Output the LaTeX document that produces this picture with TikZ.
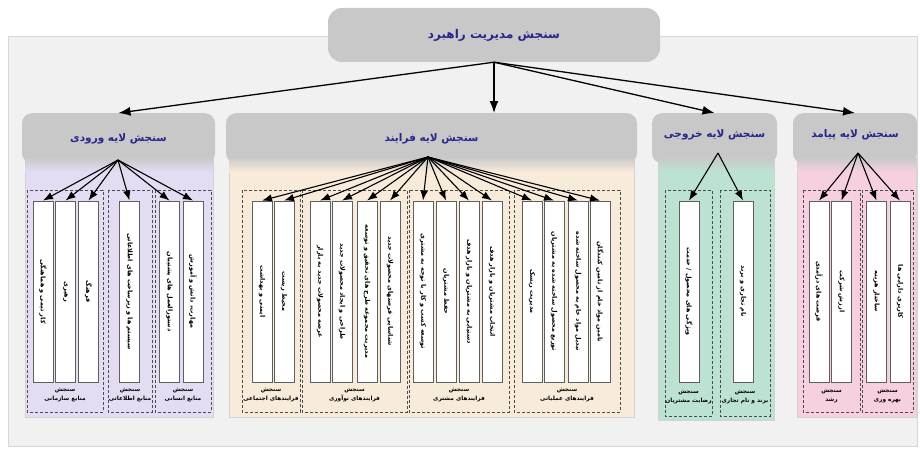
\documentclass[tikz,border=0pt]{standalone}
\usepackage{fontspec}
\usepackage{graphicx}
\setmainfont{DejaVu Sans}
\newfontfamily\fa[Script=Arabic]{DejaVu Sans}
\TeXXeTstate=1
\usetikzlibrary{arrows.meta}
\definecolor{ttlblue}{RGB}{38,38,140}
\definecolor{panelbg}{RGB}{241,241,241}
\definecolor{panelln}{RGB}{215,215,215}
\definecolor{hdrgray}{RGB}{200,200,200}
\definecolor{bodyI}{RGB}{228,220,243}
\definecolor{bodyP}{RGB}{249,235,218}
\definecolor{bodyO}{RGB}{188,227,210}
\definecolor{bodyU}{RGB}{246,208,224}
\definecolor{boxln}{RGB}{95,95,95}
\newcommand\rl[1]{\beginR #1\endR}
\newcommand\vtext[1]{\rotatebox{-90}{\fa\bfseries\beginR #1\endR}}
\newcommand\twol[1]{\beginR سنجش\endR\\\beginR #1\endR}
\begin{document}
\begin{tikzpicture}[x=1pt,y=-1pt,
  topbox/.style={fill=hdrgray, rounded corners=14pt, minimum width=332pt, minimum height=54pt, font=\fa\bfseries\fontsize{12}{14}\selectfont, text=ttlblue},
  hdr/.style={fill=hdrgray, rounded corners=10pt, minimum height=50pt, anchor=north, inner sep=0pt},
  ttl/.style={font=\fa\bfseries\fontsize{10.5}{12}\selectfont, text=ttlblue},
  body/.style={draw=gray!35, line width=0.6pt},
  grp/.style={draw=gray!60!black, dash pattern=on 3pt off 2pt, line width=0.6pt},
  wbox/.style={draw=boxln, fill=white, line width=0.9pt, minimum width=20pt, minimum height=181pt, inner sep=0pt, font=\fontsize{6.4}{7}\selectfont},
  lbl/.style={font=\fa\bfseries\fontsize{5.8}{9}\selectfont, align=center, inner sep=0pt},
  marr/.style={line width=1.3pt, -{Latex[length=12pt,width=9pt]}},
  iarr/.style={line width=1.1pt, -{Latex[length=10pt,width=7.5pt]}},
]
\useasboundingbox (0,0) rectangle (920,452);
\fill[white] (0,0) rectangle (920,452);
\draw[fill=panelbg, draw=panelln, line width=1pt] (8,37) rectangle (917,446);

% top box
\node[topbox] (top) at (494,35) {\rl{سنجش مدیریت راهبرد}};

% headers
\node[hdr, minimum width=193pt] (hI) at (118.5,113) {};
\node[hdr, minimum width=411pt] (hP) at (431.5,113) {};
\node[hdr, minimum width=125pt] (hO) at (714.5,113) {};
\node[hdr, minimum width=124pt] (hU) at (855,113) {};

% bodies
\draw[body, fill=bodyI] (25,158) rectangle (213,417);
\draw[body, fill=bodyP] (229,158) rectangle (634,417);
\draw[body, fill=bodyO] (658,158) rectangle (774,420);
\draw[body, fill=bodyU] (797,158) rectangle (916,417);
\shade[top color=hdrgray, bottom color=bodyI] (25,157) rectangle (213,172);
\shade[top color=hdrgray, bottom color=bodyP] (229,157) rectangle (634,172);
\shade[top color=hdrgray, bottom color=bodyO] (658,157) rectangle (774,172);
\shade[top color=hdrgray, bottom color=bodyU] (797,157) rectangle (916,172);

% titles
\node[ttl] (tI) at (118.5,139) {\rl{سنجش لایه ورودی}};
\node[ttl] (tP) at (431.5,139) {\rl{سنجش لایه فرایند}};
\node[ttl] (tO) at (714.5,135) {\rl{سنجش لایه خروجی}};
\node[ttl] (tU) at (855,135) {\rl{سنجش لایه پیامد}};
\coordinate (oI) at (118,160);
\coordinate (oP) at (428,157);
\coordinate (oO) at (718,153);
\coordinate (oU) at (858,153);

% dashed groups
\draw[grp] (27,190) rectangle (103,412);
\draw[grp] (108,190) rectangle (152,412);
\draw[grp] (155,190) rectangle (211,412);
\draw[grp] (242,190) rectangle (300,412);
\draw[grp] (302,190) rectangle (407,412);
\draw[grp] (409,190) rectangle (509,412);
\draw[grp] (514,190) rectangle (620,412);
\draw[grp] (665,190) rectangle (712,416);
\draw[grp] (720,190) rectangle (770,416);
\draw[grp] (803,190) rectangle (860,412);
\draw[grp] (862,190) rectangle (913,412);

% group labels
\node[lbl] (lI1) at (65,395) {\twol{منابع سازمانی}};
\node[lbl] (lI2) at (130,395) {\twol{منابع اطلاعاتی}};
\node[lbl] (lI3) at (183,395) {\twol{منابع انسانی}};
\node[lbl] (lP1) at (271,395) {\twol{فرایندهای اجتماعی}};
\node[lbl] (lP2) at (354.5,395) {\twol{فرایندهای نوآوری}};
\node[lbl] (lP3) at (459,395) {\twol{فرایندهای مشتری}};
\node[lbl] (lP4) at (567,395) {\twol{فرایندهای عملیاتی}};
\node[lbl] (lO1) at (688.5,397) {\twol{رضایت مشتریان}};
\node[lbl] (lO2) at (745,397) {\twol{برند و نام تجاری}};
\node[lbl] (lU1) at (831.5,396) {\twol{رشد}};
\node[lbl] (lU2) at (887.5,396) {\twol{بهره وری}};

% input boxes
\node[wbox] (i1) at (43,291.5) {\vtext{کار تیمی و هماهنگی}};
\node[wbox] (i2) at (65.5,291.5) {\vtext{رهبری}};
\node[wbox] (i3) at (88.5,291.5) {\vtext{فرهنگ}};
\node[wbox] (i4) at (129.5,291.5) {\vtext{سیستم ها و زیرساخت های اطلاعاتی}};
\node[wbox] (i5) at (169.5,291.5) {\vtext{دستورالعمل های پشتیبان}};
\node[wbox] (i6) at (193,291.5) {\vtext{مهارت، دانش و آموزش}};

% process boxes
\node[wbox] (p1) at (262,291.5) {\vtext{ایمنی و بهداشت}};
\node[wbox] (p2) at (284,291.5) {\vtext{محیط زیست}};
\node[wbox] (p3) at (320,291.5) {\vtext{عرضه محصولات جدید به بازار}};
\node[wbox] (p4) at (342,291.5) {\vtext{طراحی و ایجاد محصولات جدید}};
\node[wbox] (p5) at (367,291.5) {\vtext{مدیریت مجموعه طرح های تحقیق و توسعه}};
\node[wbox] (p6) at (390,291.5) {\vtext{شناسایی فرصتهای محصولات جدید}};
\node[wbox] (p7) at (423,291.5) {\vtext{توسعه کسب و کار با توجه به مشتری}};
\node[wbox] (p8) at (446,291.5) {\vtext{حفظ مشتریان}};
\node[wbox] (p9) at (469,291.5) {\vtext{دستیابی به مشتریان و بازار هدف}};
\node[wbox] (p10) at (492,291.5) {\vtext{انتخاب مشتریان و بازار هدف}};
\node[wbox] (p11) at (532,291.5) {\vtext{مدیریت ریسک}};
\node[wbox] (p12) at (554,291.5) {\vtext{توزیع محصول ساخته شده به مشتریان}};
\node[wbox] (p13) at (578,291.5) {\vtext{تبدیل مواد خام به محصول ساخته شده}};
\node[wbox] (p14) at (600,291.5) {\vtext{تامین مواد خام از تامین کنندگان}};

% output boxes
\node[wbox] (o1) at (689,291.5) {\vtext{ویژگی های محصول / خدمت}};
\node[wbox] (o2) at (743,291.5) {\vtext{نام تجاری و برند}};

% outcome boxes
\node[wbox] (u1) at (819,291.5) {\vtext{فرصت های درآمدی}};
\node[wbox] (u2) at (841.5,291.5) {\vtext{ارزش شرکت}};
\node[wbox] (u3) at (876.5,291.5) {\vtext{ساختار هزینه}};
\node[wbox] (u4) at (900,291.5) {\vtext{کاربری دارایی ها}};

% main arrows
\draw[marr] (top.south) -- (hI.north);
\draw[marr] (top.south) -- (hP.north -| top.south);
\draw[marr] (top.south) -- (hO.north);
\draw[marr] (top.south) -- (hU.north);

% inner arrows
\foreach \b in {i1,i2,i3,i4,i5,i6} \draw[iarr] (oI) -- (\b.north);
\foreach \b in {p1,p2,p3,p4,p5,p6,p7,p8,p9,p10,p11,p12,p13,p14} \draw[iarr] (oP) -- (\b.north);
\foreach \b in {o1,o2} \draw[iarr] (oO) -- (\b.north);
\foreach \b in {u1,u2,u3,u4} \draw[iarr] (oU) -- (\b.north);
\end{tikzpicture}
\end{document}
